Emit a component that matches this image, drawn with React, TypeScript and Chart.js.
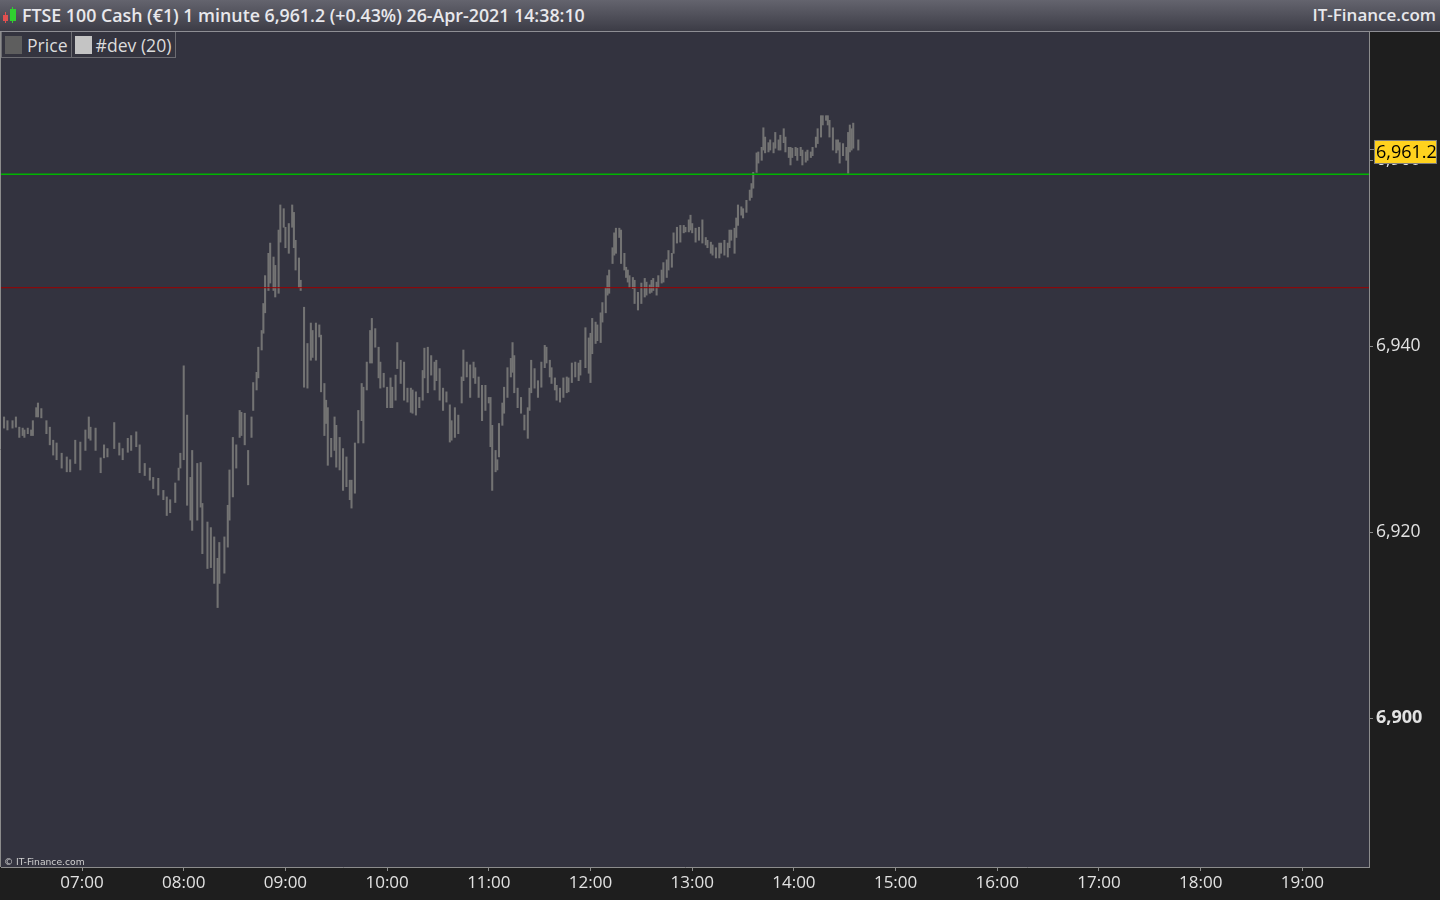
import React, { useEffect, useRef } from "react";
import { Chart, registerables } from "chart.js";

Chart.register(...registerables);

// ---- Data (FTSE 100 Cash, 1 minute bars: time, high, low) ----
const times = [
  "06:14","06:16","06:19","06:21","06:23","06:25","06:26","06:28","06:30","06:31",
  "06:33","06:34","06:36","06:39","06:41","06:43","06:45","06:48","06:51","06:53",
  "06:56","06:59","07:02","07:04","07:05","07:08","07:11","07:13","07:15","07:19",
  "07:22","07:24","07:27","07:29","07:32","07:34","07:37","07:40","07:42","07:45",
  "07:48","07:50","07:52","07:55","07:57","07:58","08:00","08:02","08:04","08:05",
  "08:08","08:10","08:11","08:14","08:16","08:18","08:20","08:21","08:24","08:26",
  "08:27","08:29","08:31","08:33","08:34","08:36","08:38","08:40","08:41","08:43",
  "08:44","08:46","08:47","08:48","08:50","08:51","08:53","08:54","08:56","08:57",
  "08:59","09:00","09:02","09:04","09:05","09:06","09:08","09:09","09:11","09:13",
  "09:15","09:16","09:18","09:20","09:21","09:23","09:24","09:25","09:27","09:29",
  "09:30","09:32","09:34","09:36","09:38","09:39","09:41","09:43","09:45","09:46",
  "09:48","09:50","09:51","09:53","09:55","09:56","09:58","10:00","10:02","10:03",
  "10:05","10:06","10:08","10:10","10:12","10:14","10:15","10:17","10:19","10:21",
  "10:22","10:24","10:26","10:28","10:29","10:31","10:33","10:35","10:37","10:38",
  "10:40","10:42","10:44","10:45","10:47","10:49","10:51","10:52","10:54","10:56",
  "10:58","11:00","11:01","11:02","11:04","11:05","11:06","11:08","11:09","11:11",
  "11:13","11:14","11:15","11:17","11:19","11:21","11:23","11:24","11:25","11:27",
  "11:29","11:31","11:33","11:34","11:36","11:37","11:39","11:40","11:42","11:44",
  "11:46","11:47","11:49","11:51","11:53","11:54","11:57","11:59","12:00","12:01",
  "12:03","12:04","12:06","12:07","12:09","12:10","12:11","12:13","12:14","12:15",
  "12:17","12:18","12:20","12:21","12:22","12:23","12:25","12:26","12:28","12:30",
  "12:32","12:33","12:35","12:36","12:37","12:39","12:40","12:42","12:43","12:45",
  "12:46","12:48","12:49","12:51","12:53","12:55","12:56","12:58","12:59","13:00",
  "13:02","13:04","13:06","13:08","13:09","13:11","13:12","13:14","13:16","13:17",
  "13:19","13:21","13:22","13:23","13:25","13:26","13:27","13:29","13:30","13:32",
  "13:34","13:35","13:36","13:38","13:39","13:41","13:42","13:43","13:45","13:46",
  "13:48","13:49","13:51","13:52","13:54","13:55","13:57","13:58","13:59","14:01",
  "14:02","14:04","14:05","14:07","14:08","14:10","14:11","14:13","14:14","14:16",
  "14:17","14:19","14:20","14:21","14:23","14:25","14:26","14:27","14:29","14:31",
  "14:32","14:33","14:34","14:35","14:38"
];

const highs = [
  6932.4,6932.0,6932.0,6932.4,6931.3,6931.2,6931.0,6931.2,6931.0,6932.0,
  6933.4,6933.9,6933.3,6932.0,6931.3,6929.9,6929.6,6928.5,6928.1,6927.8,
  6929.9,6929.7,6931.0,6932.4,6931.3,6931.2,6928.0,6929.4,6929.0,6931.8,
  6929.6,6929.0,6930.1,6930.4,6930.8,6929.4,6927.4,6926.9,6925.9,6925.8,
  6924.5,6923.8,6923.5,6925.3,6926.9,6928.5,6937.9,6932.6,6925.9,6928.8,
  6927.4,6927.5,6923.1,6921.1,6920.5,6919.5,6917.2,6918.9,6919.5,6922.9,
  6926.7,6930.2,6929.4,6933.1,6932.9,6932.8,6928.8,6932.4,6936.1,6937.2,
  6939.9,6941.7,6944.6,6947.6,6950.0,6951.1,6949.6,6948.7,6952.5,6955.2,
  6954.8,6952.8,6953.2,6955.2,6954.4,6951.4,6949.5,6947.1,6944.2,6940.3,
  6942.5,6941.7,6942.5,6942.3,6941.2,6936.0,6934.2,6933.4,6930.1,6932.4,
  6931.5,6930.2,6929.0,6928.1,6925.6,6925.6,6929.6,6933.1,6936.0,6935.6,
  6938.3,6941.7,6943.0,6941.9,6939.9,6938.3,6937.1,6935.6,6936.6,6935.6,
  6936.9,6940.4,6938.5,6938.3,6935.5,6935.5,6935.3,6935.1,6934.5,6937.4,
  6939.8,6939.9,6939.0,6938.3,6938.5,6937.6,6935.5,6935.1,6933.7,6932.0,
  6933.4,6932.6,6936.7,6939.6,6938.3,6938.0,6938.3,6937.7,6936.7,6935.8,
  6935.8,6934.5,6934.5,6931.5,6928.8,6927.8,6931.7,6933.9,6935.6,6937.7,
  6938.7,6940.4,6939.0,6935.5,6934.5,6932.6,6933.4,6935.5,6938.5,6937.6,
  6936.3,6938.3,6940.1,6939.9,6938.5,6937.7,6936.6,6935.8,6935.5,6936.6,
  6936.7,6936.6,6938.2,6938.3,6938.2,6938.5,6942.0,6940.9,6941.4,6943.0,
  6942.6,6942.3,6943.6,6944.7,6946.3,6947.6,6948.2,6950.6,6952.2,6952.7,
  6952.7,6952.5,6950.0,6948.5,6948.2,6947.6,6947.4,6947.1,6945.8,6946.8,
  6947.3,6946.9,6946.6,6947.1,6947.3,6946.9,6947.6,6948.2,6949.0,6949.3,
  6950.3,6950.0,6952.2,6952.8,6953.0,6953.0,6952.8,6953.6,6954.1,6953.2,
  6952.7,6952.8,6953.6,6951.7,6951.4,6951.2,6950.9,6950.6,6951.1,6951.1,
  6951.4,6951.1,6952.5,6952.5,6952.7,6953.8,6955.2,6955.0,6954.8,6955.7,
  6956.8,6957.5,6958.7,6960.8,6960.9,6961.4,6963.5,6962.5,6961.9,6962.2,
  6961.9,6963.0,6962.2,6962.7,6963.4,6962.5,6961.4,6961.4,6961.3,6961.4,
  6961.3,6961.4,6961.1,6960.9,6961.1,6960.9,6961.4,6962.5,6963.4,6964.8,
  6964.8,6964.8,6964.8,6964.3,6963.5,6962.2,6962.2,6961.9,6961.8,6961.4,
  6963.0,6963.8,6963.4,6964.0,6962.2
];

const lows = [
  6931.2,6931.0,6931.2,6931.3,6930.2,6930.4,6930.2,6930.6,6930.4,6930.4,
  6932.4,6932.4,6932.3,6930.6,6929.4,6928.3,6927.8,6926.9,6926.5,6926.5,
  6927.4,6926.7,6928.8,6930.1,6929.9,6928.8,6926.4,6928.0,6928.1,6929.0,
  6928.3,6927.8,6928.6,6928.8,6929.2,6926.4,6926.1,6925.6,6924.7,6924.0,
  6923.5,6921.8,6922.1,6923.2,6925.6,6926.9,6927.8,6922.9,6921.3,6920.2,
  6921.3,6922.7,6917.7,6916.1,6916.2,6914.5,6911.9,6914.5,6915.6,6918.4,
  6921.3,6923.8,6926.9,6930.2,6930.4,6929.4,6925.1,6930.2,6933.1,6935.3,
  6936.6,6939.6,6941.4,6943.6,6946.0,6946.8,6946.0,6945.3,6945.7,6951.2,
  6952.8,6950.6,6950.0,6952.8,6950.6,6948.2,6946.3,6946.0,6935.6,6935.5,
  6938.5,6938.8,6938.5,6941.0,6935.1,6930.4,6931.7,6927.2,6928.1,6928.8,
  6927.0,6926.7,6924.5,6924.9,6923.5,6922.6,6924.2,6929.6,6932.0,6929.6,
  6935.3,6938.2,6938.2,6939.9,6936.6,6935.5,6935.6,6933.4,6933.4,6933.4,
  6934.2,6937.6,6936.0,6934.2,6934.0,6932.9,6932.8,6932.6,6933.4,6934.2,
  6936.6,6935.0,6936.9,6935.3,6936.3,6934.2,6933.1,6934.0,6929.7,6929.9,
  6930.2,6930.6,6933.9,6936.3,6936.7,6934.5,6936.6,6936.0,6934.5,6932.0,
  6933.1,6933.9,6929.2,6924.5,6926.5,6926.7,6928.1,6931.5,6932.8,6934.5,
  6936.7,6937.2,6935.0,6933.4,6932.8,6931.0,6930.1,6933.1,6935.0,6935.5,
  6934.5,6935.6,6937.7,6938.2,6936.7,6936.0,6935.3,6934.2,6934.0,6934.5,
  6935.0,6935.1,6936.1,6936.7,6936.3,6936.9,6937.7,6937.1,6936.1,6939.2,
  6940.3,6940.6,6940.4,6942.6,6943.6,6945.5,6945.7,6948.9,6949.8,6950.0,
  6951.7,6948.9,6948.2,6947.4,6946.9,6946.3,6946.2,6944.6,6943.9,6944.6,
  6945.3,6945.5,6945.7,6945.8,6946.0,6945.5,6946.3,6946.8,6946.9,6947.4,
  6948.2,6948.5,6950.0,6951.1,6951.2,6952.2,6952.3,6952.3,6952.5,6952.2,
  6951.2,6951.4,6951.1,6950.9,6950.6,6950.0,6949.8,6949.5,6949.5,6950.0,
  6949.8,6949.6,6950.6,6951.4,6950.0,6951.7,6953.0,6954.1,6953.8,6954.4,
  6955.7,6956.0,6957.0,6958.7,6959.7,6960.0,6961.1,6960.8,6960.9,6961.1,
  6960.8,6961.3,6961.1,6961.1,6961.9,6960.9,6960.3,6959.5,6960.3,6960.5,
  6960.0,6960.5,6959.5,6959.8,6960.0,6960.3,6960.5,6961.4,6961.8,6962.5,
  6963.8,6964.3,6963.8,6962.5,6961.1,6960.8,6961.1,6959.7,6960.5,6960.0,
  6958.6,6960.9,6961.1,6961.3,6961.1
];

const hourTicks = ["07:00","08:00","09:00","10:00","11:00","12:00","13:00","14:00","15:00","16:00","17:00","18:00","19:00"];
const priceTicks = [6900, 6920, 6940, 6960];
const timeRange = ["06:12.2", "19:39.3"];
const priceRange = [6884.0, 6973.8];
const lastPrice = 6961.2;
const greenLevel = 6958.5;
const redLevel = 6946.3;

const title = "FTSE 100 Cash (€1) 1 minute 6,961.2 (+0.43%) 26-Apr-2021 14:38:10";

function toMin(s: string): number {
  const [h, m] = s.split(":");
  return parseInt(h, 10) * 60 + parseFloat(m);
}
function fmtTime(v: number): string {
  const h = Math.floor(v / 60);
  const m = Math.round(v - h * 60);
  return String(h).padStart(2, "0") + ":" + String(m).padStart(2, "0");
}
function fmtPrice(v: number, digits = 0): string {
  return v.toLocaleString("en-US", { minimumFractionDigits: digits, maximumFractionDigits: digits });
}

const FONT = '"Open Sans", "Noto Sans", sans-serif';

export default function App() {
  const ref = useRef<HTMLCanvasElement | null>(null);

  useEffect(() => {
    const canvas = ref.current;
    if (!canvas) return;
    const xMin = toMin(timeRange[0]);
    const xMax = toMin(timeRange[1]);

    const bars = times.map((t, i) => ({ x: toMin(t), y: [lows[i], highs[i]] }));

    const bgPlugin = {
      id: "bg",
      beforeDraw(chart: any) {
        const { ctx, chartArea: a, width, height } = chart;
        ctx.save();
        ctx.fillStyle = "#1e1e1e";
        ctx.fillRect(0, 0, width, height);
        ctx.fillStyle = "#33333f";
        ctx.fillRect(a.left, a.top, a.right - a.left, a.bottom - a.top);
        ctx.strokeStyle = "#8c8c8c";
        ctx.lineWidth = 1;
        ctx.beginPath();
        ctx.moveTo(0.5, a.top);
        ctx.lineTo(0.5, a.bottom);
        ctx.stroke();
        ctx.restore();
      },
    };

    const pricePlugin = {
      id: "priceLabel",
      afterDraw(chart: any) {
        const { ctx, chartArea: a } = chart;
        const y = Math.round(chart.scales.y.getPixelForValue(lastPrice));
        ctx.save();
        ctx.strokeStyle = "#8c8c8c";
        ctx.lineWidth = 1;
        ctx.beginPath();
        ctx.moveTo(a.right, y + 0.5);
        ctx.lineTo(a.right + 5, y + 0.5);
        ctx.stroke();
        const bx = a.right + 5, by = y - 9, bw = 63, bh = 24;
        ctx.fillStyle = "#ffd21e";
        ctx.fillRect(bx, by, bw, bh);
        ctx.strokeStyle = "#7a7a7a";
        ctx.strokeRect(bx + 0.5, by + 0.5, bw - 1, bh - 1);
        ctx.fillStyle = "#000000";
        ctx.font = `18px ${FONT}`;
        ctx.textBaseline = "middle";
        ctx.textAlign = "left";
        ctx.fillText(fmtPrice(lastPrice, 1), bx + 2, by + bh / 2 + 1);
        ctx.restore();
      },
    };

    const chart = new Chart(canvas, {
      type: "bar",
      data: {
        datasets: [
          {
            type: "bar",
            label: "Price",
            data: bars as any,
            backgroundColor: "#737373",
            borderWidth: 0,
            barThickness: 1.4,
            order: 2,
          },
          {
            type: "line",
            label: "level1",
            data: [{ x: xMin, y: greenLevel }, { x: xMax, y: greenLevel }],
            borderColor: "#00b400",
            borderWidth: 1.5,
            pointRadius: 0,
            order: 1,
          },
          {
            type: "line",
            label: "level2",
            data: [{ x: xMin, y: redLevel }, { x: xMax, y: redLevel }],
            borderColor: "#9c0000",
            borderWidth: 1,
            pointRadius: 0,
            order: 1,
          },
        ] as any,
      },
      options: {
        animation: false,
        responsive: false,
        maintainAspectRatio: false,
        layout: { padding: { left: 1, top: 32, right: 0, bottom: 0 } },
        plugins: { legend: { display: false }, tooltip: { enabled: false } },
        scales: {
          x: {
            type: "linear",
            min: xMin,
            max: xMax,
            offset: false,
            grid: { offset: false, drawOnChartArea: false, drawTicks: true, tickLength: 4, color: "#8c8c8c" },
            border: { color: "#8c8c8c", width: 1 },
            ticks: {
              color: "#e2e2e2",
              font: { family: FONT, size: 17 },
              padding: 2,
              maxRotation: 0,
              autoSkip: false,
              callback: (v: any) => fmtTime(Number(v)),
            },
            afterBuildTicks: (s: any) => {
              s.ticks = hourTicks.map((t) => ({ value: toMin(t) }));
            },
            afterFit: (s: any) => {
              s.height = 33;
            },
          },
          y: {
            type: "linear",
            position: "right",
            min: priceRange[0],
            max: priceRange[1],
            grid: { drawOnChartArea: false, drawTicks: true, tickLength: 4, color: "#8c8c8c" },
            border: { color: "#8c8c8c", width: 1 },
            ticks: {
              color: "#e2e2e2",
              font: (c: any) =>
                c.tick && c.tick.value === 6900
                  ? { family: FONT, size: 18, weight: "bold" }
                  : { family: FONT, size: 17.5, weight: "normal" },
              padding: 3,
              autoSkip: false,
              callback: (v: any) => fmtPrice(Number(v)),
            },
            afterBuildTicks: (s: any) => {
              s.ticks = priceTicks.map((v) => ({ value: v }));
            },
            afterFit: (s: any) => {
              s.width = 71;
            },
          },
        },
      } as any,
      plugins: [bgPlugin, pricePlugin],
    });
    return () => chart.destroy();
  }, []);

  return (
    <div style={{ position: "fixed", left: 0, top: 0, width: 1440, height: 900, overflow: "hidden", background: "#1e1e1e" }}>
      <canvas ref={ref} width={1440} height={900} style={{ position: "absolute", left: 0, top: 0, width: 1440, height: 900 }} />
      {/* header */}
      <div
        style={{
          position: "absolute",
          left: 0,
          top: 0,
          width: 1440,
          height: 31,
          background: "linear-gradient(#64646e, #3c3c46)",
          borderBottom: "1px solid #8e8e94",
        }}
      >
        <div style={{ position: "absolute", left: 5, top: 12, width: 1, height: 11, background: "#e05050" }} />
        <div style={{ position: "absolute", left: 3, top: 15, width: 5, height: 6, background: "#e05050" }} />
        <div style={{ position: "absolute", left: 12, top: 7, width: 1, height: 16, background: "#30d030" }} />
        <div style={{ position: "absolute", left: 10, top: 9, width: 6, height: 12, background: "#30d030" }} />
        <span
          style={{
            position: "absolute",
            left: 22,
            top: 4,
            font: `600 17.8px ${FONT}`,
            color: "#e8e8ec",
            whiteSpace: "nowrap",
            lineHeight: "22px",
          }}
        >
          {title}
        </span>
        <span
          style={{
            position: "absolute",
            right: 4,
            top: 4,
            font: `600 17px ${FONT}`,
            color: "#e8e8ec",
            whiteSpace: "nowrap",
            lineHeight: "22px",
          }}
        >
          IT-Finance.com
        </span>
      </div>
      {/* legend */}
      <div
        style={{
          position: "absolute",
          left: 1,
          top: 32,
          height: 25,
          display: "flex",
          border: "1px solid #6c6c72",
          borderTop: "none",
          background: "#34343f",
        }}
      >
        <div style={{ display: "flex", alignItems: "center", padding: "0 3px 0 3px", borderRight: "1px solid #6c6c72" }}>
          <div style={{ width: 17, height: 18, background: "#5e5e5e", marginRight: 5 }} />
          <span style={{ font: `17.6px ${FONT}`, color: "#dcdcdc", lineHeight: "22px" }}>Price</span>
        </div>
        <div style={{ display: "flex", alignItems: "center", padding: "0 4px 0 3px" }}>
          <div style={{ width: 17, height: 18, background: "#c4c4c4", marginRight: 4 }} />
          <span style={{ font: `17.6px ${FONT}`, color: "#dcdcdc", lineHeight: "22px" }}>#dev (20)</span>
        </div>
      </div>
      {/* copyright */}
      <span
        style={{
          position: "absolute",
          left: 4,
          top: 856,
          font: `9.2px "DejaVu Sans", sans-serif`,
          color: "#d0d0d0",
          whiteSpace: "nowrap",
          lineHeight: "11px",
        }}
      >
        © IT-Finance.com
      </span>
    </div>
  );
}
